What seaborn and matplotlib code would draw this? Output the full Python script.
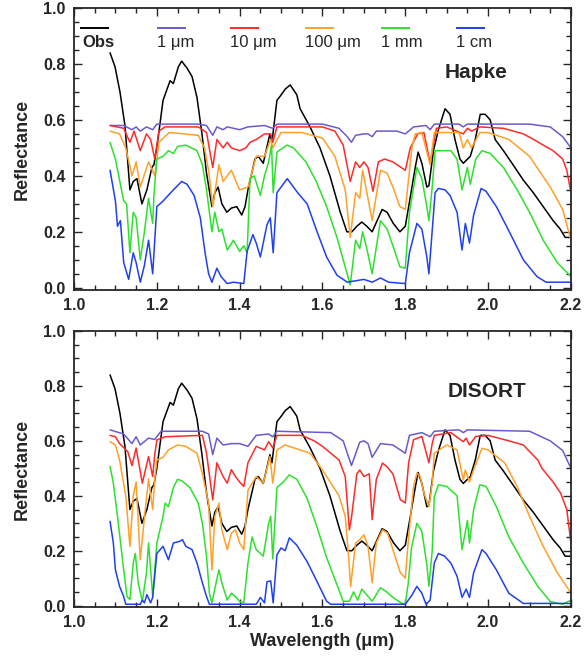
import matplotlib
matplotlib.use("Agg")
import matplotlib.pyplot as plt
from matplotlib.ticker import MultipleLocator, FormatStrFormatter
import pandas as pd
import seaborn as sns

# ---- data (wavelength in micron, reflectance) ----
labels = ["Obs", "1 \u03bcm", "10 \u03bcm", "100 \u03bcm", "1 mm", "1 cm"]
colors = ["#000000", "#6a5acd", "#ff2a2a", "#ffa028", "#2ee02e", "#2040f0"]

obs_wl = [1.087, 1.099, 1.111, 1.123, 1.135, 1.143, 1.152, 1.164, 1.176, 1.188,
          1.193, 1.200, 1.215, 1.232, 1.240, 1.252, 1.260, 1.273, 1.285, 1.297,
          1.309, 1.320, 1.333, 1.340, 1.348, 1.357, 1.369, 1.380, 1.393, 1.405,
          1.413, 1.420, 1.437, 1.445, 1.457, 1.473, 1.478, 1.490, 1.498, 1.510,
          1.522, 1.538, 1.546, 1.570, 1.594, 1.618, 1.643, 1.659, 1.671, 1.683,
          1.695, 1.707, 1.720, 1.732, 1.744, 1.756, 1.771, 1.787, 1.800, 1.811,
          1.824, 1.831, 1.840, 1.852, 1.857, 1.868, 1.880, 1.896, 1.908, 1.920,
          1.932, 1.940, 1.957, 1.969, 1.981, 1.993, 2.005, 2.017, 2.037, 2.060,
          2.085, 2.109, 2.133, 2.157, 2.174, 2.186, 2.198]
obs_r = [0.84, 0.79, 0.70, 0.58, 0.35, 0.38, 0.39, 0.30, 0.35, 0.43,
         0.44, 0.50, 0.67, 0.74, 0.73, 0.79, 0.81, 0.785, 0.755, 0.68,
         0.55, 0.41, 0.29, 0.34, 0.36, 0.30, 0.27, 0.285, 0.29, 0.26,
         0.29, 0.35, 0.46, 0.47, 0.445, 0.55, 0.52, 0.67, 0.685, 0.71,
         0.725, 0.69, 0.64, 0.575, 0.50, 0.40, 0.27, 0.20, 0.20, 0.22,
         0.235, 0.22, 0.20, 0.24, 0.28, 0.27, 0.23, 0.20, 0.22, 0.315,
         0.43, 0.485, 0.445, 0.36, 0.365, 0.49, 0.565, 0.64, 0.62, 0.53,
         0.46, 0.445, 0.47, 0.53, 0.62, 0.62, 0.60, 0.53, 0.49, 0.44,
         0.385, 0.34, 0.29, 0.24, 0.21, 0.18, 0.18]

# Hapke models
h1_wl = [1.087, 1.12, 1.14, 1.15, 1.16, 1.175, 1.19, 1.20, 1.30, 1.32,
         1.335, 1.345, 1.36, 1.37, 1.40, 1.42, 1.46, 1.48, 1.49, 1.60,
         1.64, 1.66, 1.67, 1.68, 1.70, 1.71, 1.72, 1.73, 1.78, 1.80,
         1.82, 1.85, 1.86, 1.87, 1.93, 1.94, 1.95, 2.10, 2.15, 2.18, 2.20]
h1_r = [0.58, 0.58, 0.565, 0.575, 0.56, 0.575, 0.565, 0.585, 0.585, 0.58,
        0.545, 0.575, 0.565, 0.575, 0.565, 0.575, 0.58, 0.57, 0.585, 0.585,
        0.57, 0.54, 0.52, 0.545, 0.55, 0.55, 0.54, 0.56, 0.56, 0.55,
        0.575, 0.58, 0.565, 0.585, 0.585, 0.575, 0.585, 0.585, 0.575, 0.54, 0.50]

h10_wl = [1.087, 1.12, 1.135, 1.145, 1.16, 1.175, 1.185, 1.195, 1.205, 1.22,
          1.30, 1.32, 1.335, 1.345, 1.36, 1.37, 1.38, 1.40, 1.415, 1.425,
          1.44, 1.46, 1.475, 1.48, 1.49, 1.60, 1.63, 1.65, 1.667, 1.68,
          1.69, 1.70, 1.71, 1.722, 1.735, 1.75, 1.77, 1.79, 1.80, 1.812,
          1.83, 1.845, 1.86, 1.875, 1.90, 1.94, 1.95, 1.96, 1.98, 2.037,
          2.085, 2.11, 2.133, 2.157, 2.18, 2.19, 2.20]
h10_r = [0.58, 0.57, 0.52, 0.56, 0.49, 0.55, 0.53, 0.46, 0.56, 0.575,
         0.575, 0.555, 0.43, 0.53, 0.50, 0.52, 0.50, 0.49, 0.50, 0.52,
         0.53, 0.55, 0.55, 0.52, 0.575, 0.575, 0.56, 0.51, 0.38, 0.45,
         0.43, 0.45, 0.43, 0.345, 0.45, 0.46, 0.45, 0.43, 0.42, 0.50,
         0.55, 0.555, 0.445, 0.57, 0.575, 0.55, 0.57, 0.56, 0.575, 0.57,
         0.55, 0.53, 0.51, 0.49, 0.46, 0.42, 0.34]

h100_wl = [1.087, 1.11, 1.125, 1.14, 1.15, 1.16, 1.18, 1.195, 1.205, 1.23,
           1.30, 1.315, 1.325, 1.335, 1.35, 1.36, 1.38, 1.40, 1.42, 1.44,
           1.46, 1.475, 1.48, 1.50, 1.55, 1.60, 1.63, 1.655, 1.667, 1.68,
           1.69, 1.697, 1.72, 1.74, 1.756, 1.77, 1.787, 1.80, 1.816, 1.824,
           1.84, 1.86, 1.87, 1.93, 1.94, 1.95, 1.96, 1.98, 2.00, 2.05,
           2.10, 2.15, 2.18, 2.20]
h100_r = [0.56, 0.55, 0.50, 0.40, 0.45, 0.36, 0.45, 0.40, 0.52, 0.555,
          0.545, 0.50, 0.42, 0.29, 0.44, 0.38, 0.42, 0.35, 0.36, 0.47,
          0.47, 0.53, 0.50, 0.555, 0.555, 0.535, 0.47, 0.35, 0.18, 0.34,
          0.32, 0.42, 0.24, 0.42, 0.41, 0.36, 0.29, 0.28, 0.50, 0.55,
          0.555, 0.44, 0.555, 0.555, 0.50, 0.53, 0.50, 0.555, 0.555, 0.53,
          0.47, 0.36, 0.28, 0.17]

h1m_wl = [1.087, 1.10, 1.11, 1.12, 1.127, 1.135, 1.143, 1.15, 1.16, 1.17,
          1.18, 1.19, 1.193, 1.20, 1.215, 1.228, 1.24, 1.25, 1.27, 1.297,
          1.31, 1.32, 1.333, 1.34, 1.35, 1.357, 1.37, 1.385, 1.40, 1.41,
          1.418, 1.425, 1.435, 1.45, 1.46, 1.47, 1.477, 1.481, 1.49, 1.514,
          1.53, 1.56, 1.585, 1.61, 1.635, 1.65, 1.667, 1.68, 1.69, 1.697,
          1.707, 1.72, 1.74, 1.756, 1.77, 1.787, 1.80, 1.81, 1.828, 1.84,
          1.852, 1.857, 1.865, 1.872, 1.91, 1.925, 1.937, 1.95, 1.957, 1.97,
          1.985, 2.005, 2.037, 2.07, 2.10, 2.133, 2.167, 2.20]
h1m_r = [0.52, 0.46, 0.385, 0.31, 0.30, 0.125, 0.27, 0.25, 0.10, 0.20,
         0.32, 0.23, 0.33, 0.46, 0.47, 0.49, 0.48, 0.505, 0.51, 0.49,
         0.44, 0.35, 0.20, 0.27, 0.20, 0.21, 0.135, 0.17, 0.13, 0.15,
         0.125, 0.39, 0.40, 0.33, 0.40, 0.45, 0.51, 0.34, 0.485, 0.51,
         0.50, 0.45, 0.38, 0.29, 0.18, 0.10, 0.01, 0.17, 0.14, 0.20,
         0.14, 0.05, 0.24, 0.21, 0.15, 0.075, 0.07, 0.27, 0.43, 0.39,
         0.29, 0.24, 0.36, 0.49, 0.49, 0.46, 0.35, 0.43, 0.37, 0.46,
         0.49, 0.48, 0.43, 0.35, 0.27, 0.17, 0.09, 0.04]

h1c_wl = [1.087, 1.10, 1.105, 1.112, 1.12, 1.132, 1.143, 1.15, 1.16, 1.17,
          1.18, 1.19, 1.20, 1.215, 1.24, 1.26, 1.273, 1.29, 1.305, 1.317,
          1.325, 1.333, 1.345, 1.355, 1.37, 1.385, 1.41, 1.418, 1.432, 1.44,
          1.45, 1.466, 1.474, 1.481, 1.49, 1.50, 1.515, 1.54, 1.563, 1.587,
          1.61, 1.635, 1.66, 1.70, 1.72, 1.74, 1.76, 1.80, 1.81, 1.828,
          1.84, 1.852, 1.857, 1.872, 1.88, 1.896, 1.908, 1.925, 1.937, 1.945,
          1.955, 1.965, 1.983, 1.995, 2.02, 2.053, 2.085, 2.118, 2.14, 2.20]
h1c_r = [0.42, 0.31, 0.22, 0.24, 0.09, 0.03, 0.125, 0.09, 0.02, 0.08,
         0.17, 0.05, 0.29, 0.31, 0.35, 0.38, 0.37, 0.33, 0.25, 0.12,
         0.05, 0.02, 0.07, 0.04, 0.015, 0.02, 0.015, 0.13, 0.19, 0.16,
         0.11, 0.225, 0.25, 0.125, 0.34, 0.36, 0.39, 0.34, 0.30, 0.20,
         0.11, 0.045, 0.02, 0.03, 0.02, 0.035, 0.02, 0.015, 0.125, 0.23,
         0.21, 0.11, 0.05, 0.34, 0.355, 0.35, 0.33, 0.27, 0.135, 0.23,
         0.16, 0.26, 0.355, 0.345, 0.29, 0.195, 0.10, 0.04, 0.02, 0.02]

# DISORT models
d1_wl = [1.087, 1.12, 1.14, 1.15, 1.16, 1.18, 1.195, 1.21, 1.31, 1.325,
         1.335, 1.345, 1.36, 1.38, 1.40, 1.42, 1.44, 1.47, 1.48, 1.49,
         1.62, 1.65, 1.67, 1.69, 1.70, 1.71, 1.72, 1.74, 1.77, 1.80,
         1.81, 1.84, 1.86, 1.87, 1.93, 1.94, 1.95, 2.10, 2.15, 2.18, 2.20]
d1_r = [0.64, 0.625, 0.59, 0.615, 0.585, 0.61, 0.605, 0.635, 0.635, 0.625,
        0.55, 0.61, 0.585, 0.59, 0.59, 0.58, 0.62, 0.625, 0.615, 0.635,
        0.63, 0.60, 0.51, 0.595, 0.60, 0.59, 0.54, 0.59, 0.585, 0.555,
        0.62, 0.63, 0.615, 0.635, 0.64, 0.63, 0.64, 0.635, 0.60, 0.565, 0.50]

d10_wl = [1.087, 1.10, 1.11, 1.13, 1.14, 1.15, 1.165, 1.18, 1.19, 1.195,
          1.20, 1.22, 1.31, 1.32, 1.335, 1.345, 1.36, 1.37, 1.38, 1.39,
          1.40, 1.41, 1.42, 1.44, 1.46, 1.47, 1.48, 1.49, 1.55, 1.58,
          1.60, 1.64, 1.655, 1.665, 1.67, 1.683, 1.69, 1.70, 1.713, 1.72,
          1.73, 1.745, 1.755, 1.77, 1.788, 1.80, 1.808, 1.82, 1.84, 1.85,
          1.857, 1.865, 1.87, 1.91, 1.94, 1.947, 1.955, 1.97, 2.00, 2.05,
          2.085, 2.12, 2.13, 2.157, 2.175, 2.19, 2.20]
d10_r = [0.62, 0.615, 0.59, 0.56, 0.51, 0.574, 0.446, 0.543, 0.47, 0.55,
         0.603, 0.615, 0.62, 0.555, 0.385, 0.52, 0.47, 0.446, 0.495, 0.47,
         0.45, 0.434, 0.52, 0.58, 0.567, 0.597, 0.574, 0.62, 0.62, 0.60,
         0.58, 0.53, 0.47, 0.276, 0.32, 0.48, 0.494, 0.47, 0.48, 0.313,
         0.46, 0.519, 0.507, 0.48, 0.386, 0.374, 0.52, 0.604, 0.616, 0.56,
         0.52, 0.59, 0.62, 0.63, 0.597, 0.61, 0.585, 0.616, 0.62, 0.60,
         0.585, 0.53, 0.50, 0.45, 0.41, 0.35, 0.227]

d100_wl = [1.087, 1.10, 1.11, 1.125, 1.135, 1.143, 1.15, 1.16, 1.17, 1.18,
           1.19, 1.195, 1.20, 1.215, 1.228, 1.25, 1.27, 1.297, 1.31, 1.325,
           1.333, 1.34, 1.35, 1.357, 1.37, 1.38, 1.39, 1.40, 1.41, 1.42,
           1.44, 1.457, 1.473, 1.48, 1.49, 1.51, 1.57, 1.60, 1.64, 1.655,
           1.663, 1.668, 1.68, 1.69, 1.70, 1.71, 1.72, 1.73, 1.745, 1.757,
           1.77, 1.788, 1.80, 1.808, 1.82, 1.828, 1.836, 1.845, 1.857, 1.865,
           1.87, 1.90, 1.925, 1.94, 1.945, 1.955, 1.965, 1.985, 2.00, 2.04,
           2.07, 2.10, 2.133, 2.167, 2.20]
d100_r = [0.597, 0.585, 0.53, 0.40, 0.216, 0.40, 0.45, 0.167, 0.32, 0.46,
          0.35, 0.46, 0.53, 0.54, 0.567, 0.585, 0.58, 0.555, 0.48, 0.373,
          0.13, 0.325, 0.373, 0.276, 0.204, 0.264, 0.276, 0.228, 0.204, 0.42,
          0.47, 0.446, 0.543, 0.446, 0.567, 0.585, 0.555, 0.494, 0.40, 0.325,
          0.18, 0.07, 0.228, 0.24, 0.258, 0.216, 0.083, 0.228, 0.276, 0.264,
          0.204, 0.12, 0.10, 0.25, 0.434, 0.483, 0.47, 0.41, 0.36, 0.446,
          0.555, 0.585, 0.567, 0.458, 0.494, 0.45, 0.494, 0.573, 0.567, 0.52,
          0.434, 0.325, 0.216, 0.12, 0.046]

d1m_wl = [1.087, 1.095, 1.105, 1.12, 1.128, 1.135, 1.143, 1.148, 1.155, 1.165,
          1.175, 1.18, 1.19, 1.20, 1.215, 1.22, 1.228, 1.24, 1.25, 1.26,
          1.28, 1.30, 1.31, 1.32, 1.327, 1.333, 1.343, 1.35, 1.357, 1.37,
          1.38, 1.39, 1.40, 1.41, 1.42, 1.43, 1.44, 1.457, 1.47, 1.475,
          1.48, 1.49, 1.505, 1.52, 1.538, 1.563, 1.587, 1.61, 1.635, 1.65,
          1.665, 1.675, 1.685, 1.695, 1.72, 1.74, 1.755, 1.77, 1.79, 1.80,
          1.807, 1.815, 1.828, 1.84, 1.852, 1.857, 1.865, 1.87, 1.88, 1.90,
          1.925, 1.937, 1.95, 1.955, 1.965, 1.98, 1.995, 2.02, 2.05, 2.085,
          2.12, 2.15, 2.18, 2.20]
d1m_r = [0.507, 0.446, 0.325, 0.13, 0.033, 0.022, 0.155, 0.19, 0.083, 0.015,
         0.12, 0.228, 0.033, 0.228, 0.325, 0.373, 0.36, 0.43, 0.46, 0.455,
         0.43, 0.373, 0.30, 0.18, 0.045, 0.01, 0.083, 0.13, 0.083, 0.02,
         0.045, 0.033, 0.015, 0.01, 0.155, 0.25, 0.204, 0.18, 0.30, 0.325,
         0.17, 0.43, 0.45, 0.476, 0.46, 0.39, 0.285, 0.175, 0.076, 0.016,
         0.016, 0.05, 0.02, 0.06, 0.016, 0.065, 0.05, 0.03, 0.01, 0.005,
         0.08, 0.21, 0.30, 0.27, 0.15, 0.07, 0.2, 0.397, 0.44, 0.434,
         0.40, 0.204, 0.31, 0.228, 0.35, 0.44, 0.434, 0.36, 0.25, 0.155,
         0.07, 0.015, 0.005, 0.02]

d1c_wl = [1.087, 1.095, 1.10, 1.11, 1.12, 1.125, 1.16, 1.165, 1.17, 1.176,
          1.185, 1.19, 1.20, 1.215, 1.228, 1.24, 1.255, 1.262, 1.27, 1.285,
          1.297, 1.31, 1.32, 1.327, 1.44, 1.45, 1.46, 1.466, 1.475, 1.481,
          1.49, 1.50, 1.51, 1.52, 1.538, 1.563, 1.587, 1.61, 1.62, 1.80,
          1.815, 1.828, 1.84, 1.85, 1.86, 1.87, 1.88, 1.895, 1.91, 1.925,
          1.937, 1.947, 1.955, 1.965, 1.985, 1.995, 2.02, 2.05, 2.085, 2.20]
d1c_r = [0.307, 0.228, 0.13, 0.07, 0.033, 0.005, 0.005, 0.02, 0.01, 0.04,
         0.01, 0.03, 0.19, 0.216, 0.167, 0.228, 0.234, 0.24, 0.216, 0.204,
         0.155, 0.083, 0.033, 0.005, 0.005, 0.03, 0.01, 0.087, 0.09, 0.01,
         0.185, 0.21, 0.20, 0.247, 0.22, 0.16, 0.087, 0.016, 0.005, 0.005,
         0.036, 0.07, 0.045, 0.005, 0.02, 0.155, 0.19, 0.18, 0.155, 0.107,
         0.03, 0.06, 0.03, 0.12, 0.204, 0.19, 0.13, 0.045, 0.008, 0.008]


def build_frame(series):
    """long-form table: one row per point, hue column is the grain size"""
    parts = []
    for lab, (wl, refl) in zip(labels, series):
        parts.append(pd.DataFrame({"wl": wl, "refl": refl, "size": lab}))
    return pd.concat(parts, ignore_index=True)


hapke = build_frame([(obs_wl, obs_r), (h1_wl, h1_r), (h10_wl, h10_r),
                     (h100_wl, h100_r), (h1m_wl, h1m_r), (h1c_wl, h1c_r)])
disort = build_frame([(obs_wl, obs_r), (d1_wl, d1_r), (d10_wl, d10_r),
                      (d100_wl, d100_r), (d1m_wl, d1m_r), (d1c_wl, d1c_r)])

sns.set_style("ticks")
plt.rcParams["font.family"] = ["Liberation Sans", "DejaVu Sans"]
plt.rcParams["font.weight"] = "bold"
plt.rcParams["axes.linewidth"] = 1.3

palette = dict(zip(labels, colors))

fig = plt.figure(figsize=(5.86, 6.56), dpi=100)
ax_top = fig.add_axes([0.1263, 0.5579, 0.848, 0.4299])
ax_bot = fig.add_axes([0.1263, 0.0747, 0.848, 0.4207])

panels = [(ax_top, hapke, "Hapke", -0.008, 0.810, 0.773),
          (ax_bot, disort, "DISORT", -0.005, 0.831, 0.782)]
for ax, frame, name, ylo, tx, ty in panels:
    sns.lineplot(data=frame, x="wl", y="refl", hue="size", hue_order=labels,
                 palette=palette, estimator=None, sort=False, legend=False,
                 linewidth=1.1, ax=ax)
    ax.set_xlim(1.0, 2.2)
    ax.set_ylim(ylo, 1.0)
    ax.xaxis.set_major_locator(MultipleLocator(0.2))
    ax.xaxis.set_minor_locator(MultipleLocator(0.05))
    ax.yaxis.set_major_locator(MultipleLocator(0.2))
    ax.yaxis.set_minor_locator(MultipleLocator(0.05))
    ax.xaxis.set_major_formatter(FormatStrFormatter("%.1f"))
    ax.yaxis.set_major_formatter(FormatStrFormatter("%.1f"))
    ax.tick_params(which="both", direction="in", top=True, right=True,
                   width=1.0, labelsize=11.5)
    ax.tick_params(which="major", length=6)
    ax.tick_params(which="minor", length=3.5)
    ax.tick_params(axis="x", pad=6)
    ax.tick_params(axis="y", pad=6)
    ax.set_ylabel("Reflectance", fontsize=13, fontweight="bold", labelpad=9)
    ax.set_xlabel("")
    ax.text(tx, ty, name, transform=ax.transAxes, ha="center",
            va="center", fontsize=15, fontweight="bold")

ax_bot.set_xlabel("Wavelength (\u03bcm)", fontsize=13, fontweight="bold",
                  labelpad=2)

# legend across the top of the upper panel: short line above each label
leg_x = [0.012, 0.167, 0.314, 0.465, 0.618, 0.769]
for x0, lab, col in zip(leg_x, labels, colors):
    ax_top.plot([x0, x0 + 0.058], [0.929, 0.929], transform=ax_top.transAxes,
                color=col, lw=1.4, solid_capstyle="butt")
    ax_top.text(x0 + (0.004 if lab == "Obs" else 0.0), 0.876, lab,
                transform=ax_top.transAxes, ha="left", va="center",
                fontsize=12, fontweight="bold" if lab == "Obs" else "normal")

fig.savefig("out.png", dpi=100)
